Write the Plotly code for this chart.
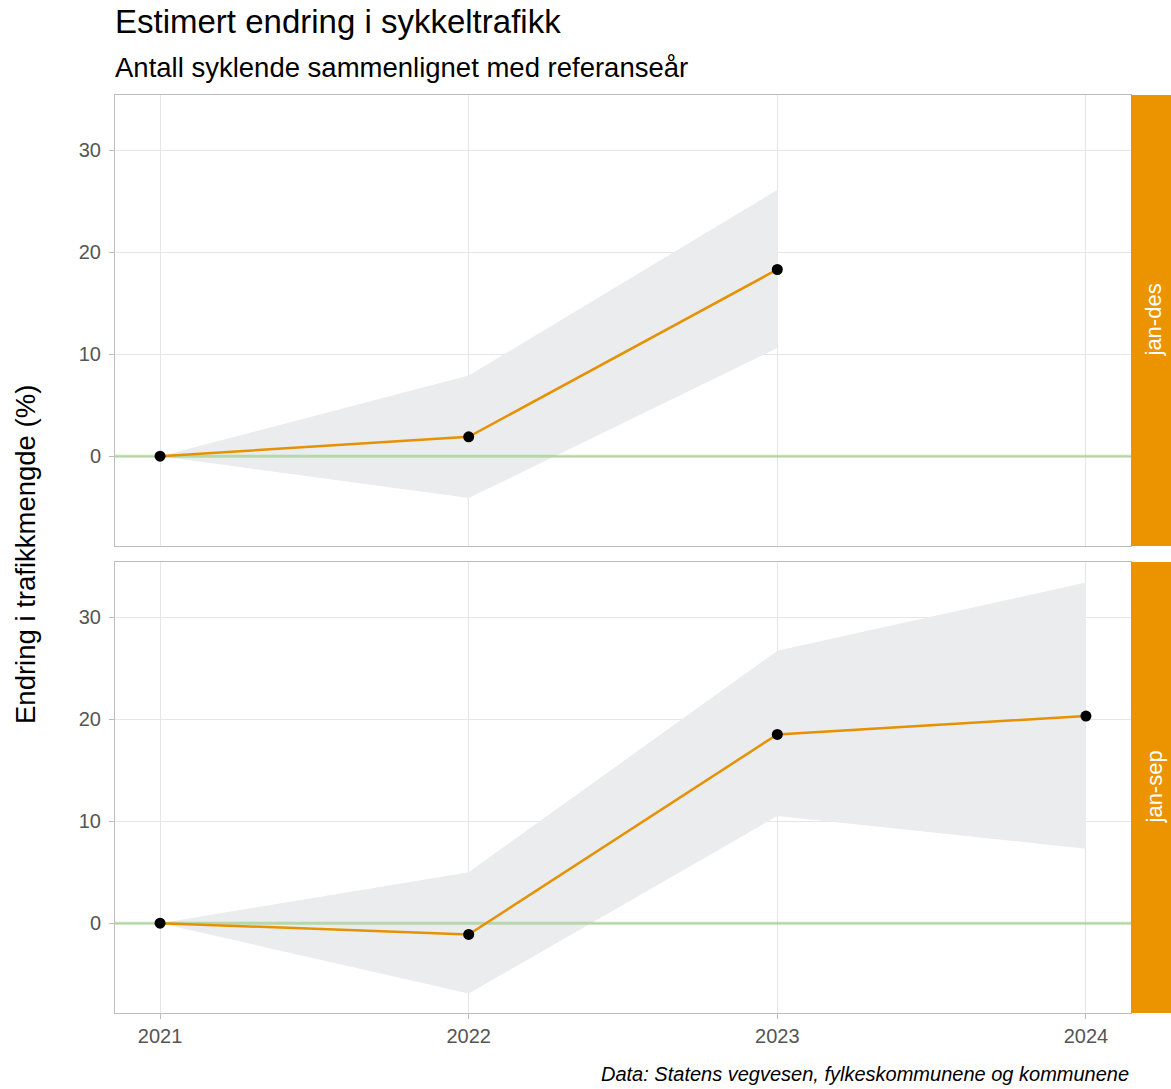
import plotly.graph_objects as go
from plotly.subplots import make_subplots

# Estimated change in cycling traffic relative to reference year (%)
years_des = [2021, 2022, 2023]
change_des = [0.0, 1.9, 18.3]
lower_des = [0.0, -4.1, 10.6]
upper_des = [0.0, 7.9, 26.1]

years_sep = [2021, 2022, 2023, 2024]
change_sep = [0.0, -1.1, 18.5, 20.3]
lower_sep = [0.0, -6.9, 10.5, 7.3]
upper_sep = [0.0, 5.0, 26.7, 33.4]

panel_labels = ["jan-des", "jan-sep"]
x_ticks = [2021, 2022, 2023, 2024]
y_ticks = [0, 10, 20, 30]

LINE = "#E69100"
RIBBON = "#EBECEE"
GRID = "#E6E6E6"
BORDER = "#BDBDBD"
STRIP = "#EC9300"
TICK_TEXT = "#555555"
FONT = "Liberation Sans, Arial, sans-serif"

fig = make_subplots(rows=2, cols=1, shared_xaxes=True, vertical_spacing=0.0174)

panels = [
    (years_des, change_des, lower_des, upper_des),
    (years_sep, change_sep, lower_sep, upper_sep),
]

for i, (yrs, val, lo, hi) in enumerate(panels, start=1):
    # confidence band
    fig.add_trace(go.Scatter(
        x=yrs + yrs[::-1], y=hi + lo[::-1], fill="toself", fillcolor=RIBBON,
        line=dict(width=0), mode="lines", hoverinfo="skip", showlegend=False,
    ), row=i, col=1)
    # reference line at zero
    fig.add_trace(go.Scatter(
        x=[2020.8, 2024.2], y=[0, 0], mode="lines",
        line=dict(color="rgba(120,190,90,0.45)", width=3),
        hoverinfo="skip", showlegend=False,
    ), row=i, col=1)
    # estimate
    fig.add_trace(go.Scatter(
        x=yrs, y=val, mode="lines+markers",
        line=dict(color=LINE, width=2.5),
        marker=dict(color="black", size=11),
        showlegend=False,
    ), row=i, col=1)

x_range = [2020.854, 2024.146]
y_range = [-8.8, 35.4]

for i in (1, 2):
    fig.update_xaxes(
        range=x_range, tickvals=x_ticks, showgrid=True, gridcolor=GRID, gridwidth=1,
        showline=True, mirror=True, linecolor=BORDER, linewidth=1, zeroline=False,
        ticks="outside" if i == 2 else "", ticklen=5, tickcolor=BORDER,
        showticklabels=(i == 2), ticklabelstandoff=0,
        tickfont=dict(family=FONT, size=20, color=TICK_TEXT),
        row=i, col=1,
    )
    fig.update_yaxes(
        range=y_range, tickvals=y_ticks, showgrid=True, gridcolor=GRID, gridwidth=1,
        showline=True, mirror=True, linecolor=BORDER, linewidth=1, zeroline=False,
        ticks="outside", ticklen=5, tickcolor=BORDER, ticklabelstandoff=4,
        tickfont=dict(family=FONT, size=20, color=TICK_TEXT),
        row=i, col=1,
    )

fig.layout.yaxis.domain = [0.5087, 1.0]
fig.layout.yaxis2.domain = [0.0, 0.4913]

# facet strips
strip_w = 40 / 1016
for dom, label in zip([fig.layout.yaxis.domain, fig.layout.yaxis2.domain], panel_labels):
    fig.add_shape(type="rect", xref="paper", yref="paper",
                  x0=1.0, x1=1.0 + strip_w, y0=dom[0], y1=dom[1],
                  fillcolor=STRIP, line=dict(width=0), layer="above")
    fig.add_annotation(xref="paper", yref="paper", x=1.0 + strip_w / 2 + 3 / 1016,
                       y=(dom[0] + dom[1]) / 2, xanchor="center", yanchor="middle",
                       text=label, textangle=-90, showarrow=False,
                       font=dict(family=FONT, size=22, color="white"))

def py(p):
    return (1013 - p) / 918

fig.add_annotation(xref="paper", yref="paper", x=-2 / 1016, y=py(22), xanchor="left", yanchor="middle",
                   text="Estimert endring i sykkeltrafikk", showarrow=False,
                   font=dict(family=FONT, size=33, color="black"))
fig.add_annotation(xref="paper", yref="paper", x=-2 / 1016, y=py(67), xanchor="left", yanchor="middle",
                   text="Antall syklende sammenlignet med referanseår", showarrow=False,
                   font=dict(family=FONT, size=27.5, color="black"))
fig.add_annotation(xref="paper", yref="paper", x=-90 / 1016, y=py(555), xanchor="center", yanchor="middle",
                   text="Endring i trafikkmengde (%)", textangle=-90, showarrow=False,
                   font=dict(family=FONT, size=27.5, color="black"))
fig.add_annotation(xref="paper", yref="paper", x=1.0, y=py(1074), xanchor="right", yanchor="middle",
                   text="<i>Data: Statens vegvesen, fylkeskommunene og kommunene</i>", showarrow=False,
                   font=dict(family=FONT, size=20, color="black"))

fig.update_layout(
    width=1171, height=1089,
    margin=dict(l=115, r=40, t=95, b=76),
    plot_bgcolor="white", paper_bgcolor="white",
    font=dict(family=FONT),
    showlegend=False,
)

fig.write_html("out.html")
